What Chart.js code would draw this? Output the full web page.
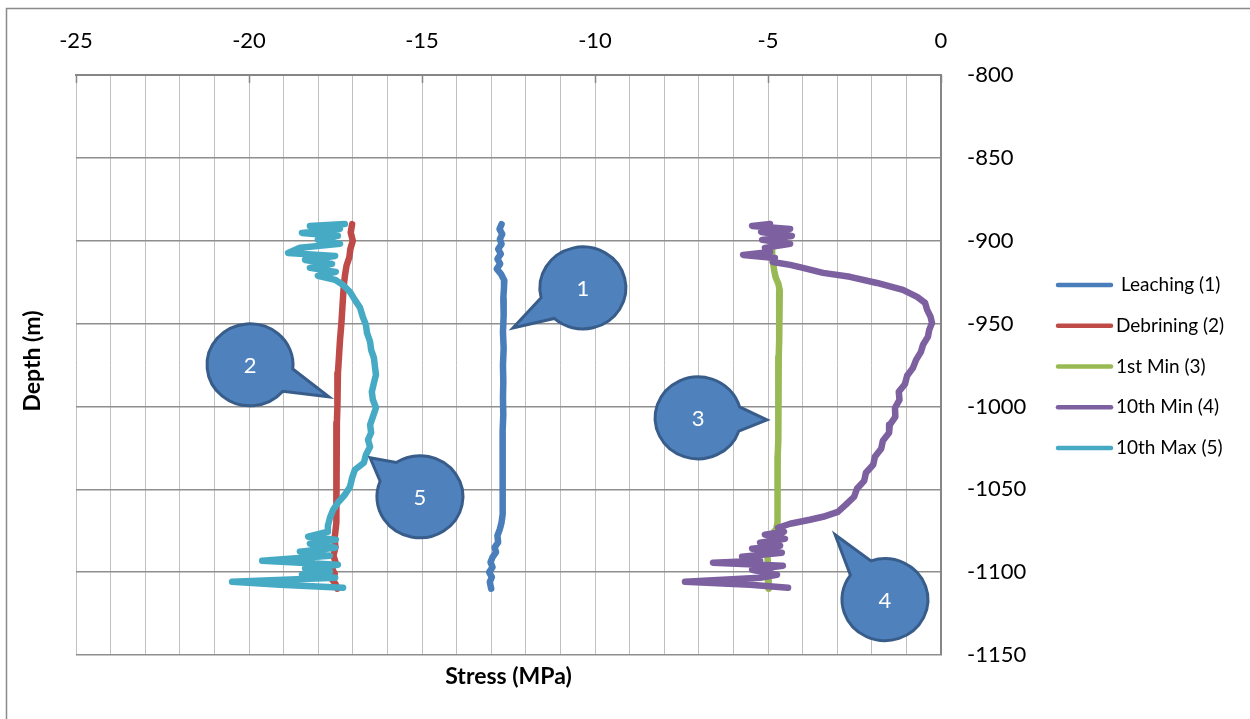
<!DOCTYPE html>
<html>
<head>
<meta charset="utf-8">
<title>Stress vs Depth</title>
<script src="https://cdn.jsdelivr.net/npm/chart.js@4.4.1/dist/chart.umd.min.js"></script>
<style>
  html, body { margin: 0; padding: 0; background: #ffffff; }
  canvas { display: block; }
</style>
</head>
<body>
<canvas id="chart" width="1250" height="719"></canvas>
<script>
// ---- Data: stress (MPa) against depth (m) for each stage ----
const seriesNames = ['Leaching (1)', 'Debrining (2)', '1st Min (3)', '10th Min (4)', '10th Max (5)'];
const seriesColors = ['#4A7EBB', '#BE4B48', '#98B954', '#7D60A0', '#46AAC5'];

const leachDepth = [-890, -893, -896, -899, -902, -905, -908, -911, -914, -917, -920, -924, -928, -935, -945, -955, -965, -975, -985, -995, -1005, -1015, -1025, -1035, -1045, -1055, -1065, -1070, -1074, -1078, -1082, -1085, -1088, -1091, -1094, -1097, -1100, -1103, -1106, -1110];
const leachStress = [-12.70, -12.76, -12.68, -12.75, -12.70, -12.80, -12.72, -12.82, -12.74, -12.84, -12.72, -12.62, -12.63, -12.65, -12.64, -12.66, -12.64, -12.66, -12.65, -12.66, -12.65, -12.67, -12.66, -12.67, -12.66, -12.68, -12.67, -12.70, -12.75, -12.82, -12.80, -12.90, -12.86, -12.96, -13.02, -12.96, -13.06, -12.98, -13.04, -13.00];

const debrineDepth = [-890, -895, -900, -905, -910, -915, -920, -925, -930, -940, -950, -960, -970, -980, -990, -1000, -1010, -1020, -1030, -1040, -1050, -1060, -1070, -1075, -1080, -1085, -1090, -1094, -1098, -1101, -1104, -1107, -1110];
const debrineStress = [-17.02, -17.06, -17.00, -17.07, -17.10, -17.18, -17.22, -17.25, -17.27, -17.30, -17.33, -17.37, -17.40, -17.43, -17.44, -17.45, -17.46, -17.46, -17.47, -17.48, -17.48, -17.48, -17.48, -17.50, -17.53, -17.50, -17.56, -17.50, -17.60, -17.52, -17.62, -17.50, -17.45];

const firstMinDepth = [-890, -895, -900, -905, -910, -914, -918, -922, -926, -930, -940, -950, -960, -970, -980, -990, -1000, -1010, -1020, -1030, -1040, -1050, -1060, -1070, -1074, -1078, -1082, -1086, -1090, -1095, -1100, -1105, -1110];
const firstMinStress = [-4.95, -4.90, -4.93, -4.88, -4.88, -4.85, -4.82, -4.78, -4.70, -4.66, -4.67, -4.68, -4.68, -4.69, -4.69, -4.70, -4.70, -4.71, -4.71, -4.72, -4.72, -4.72, -4.73, -4.73, -4.76, -4.92, -4.95, -4.98, -5.02, -5.00, -5.03, -5.00, -4.98];

const tenthMinDepth = [-889.9, -891.1, -892.9, -894.7, -897.1, -899.5, -901.9, -904.3, -906.8, -908.6, -910.4, -912.8, -914.6, -916.4, -919.4, -921.8, -925.5, -929.7, -933.9, -937.5, -941.7, -946.0, -949.6, -953.8, -958.0, -962.8, -967.1, -971.9, -976.7, -981.5, -986.4, -991.2, -996.0, -1000.8, -1006.3, -1011.1, -1015.9, -1020.7, -1025.6, -1030.4, -1035.2, -1040.0, -1044.9, -1049.7, -1054.5, -1059.3, -1063.6, -1066.6, -1068.4, -1070.8, -1073.2, -1075.6, -1077.4, -1079.9, -1082.3, -1084.1, -1085.9, -1088.3, -1090.7, -1093.1, -1094.3, -1096.1, -1098.6, -1101.6, -1103.4, -1105.8, -1107.6, -1109.4];
const tenthMinStress = [-4.94, -5.46, -4.36, -5.20, -4.31, -5.17, -4.36, -5.09, -4.94, -5.72, -4.80, -4.86, -4.36, -3.99, -3.41, -2.63, -1.85, -1.10, -0.69, -0.46, -0.40, -0.30, -0.26, -0.34, -0.38, -0.52, -0.58, -0.72, -0.81, -0.98, -1.04, -1.22, -1.20, -1.33, -1.32, -1.48, -1.50, -1.68, -1.73, -1.91, -1.96, -2.17, -2.22, -2.43, -2.51, -2.75, -2.98, -3.41, -3.79, -4.36, -4.71, -4.54, -5.09, -4.51, -5.23, -4.65, -5.46, -4.60, -5.75, -5.23, -6.59, -4.57, -5.46, -4.74, -5.23, -7.40, -5.52, -4.42];

const tenthMaxDepth = [-889.9, -891.1, -892.9, -895.3, -897.1, -899.5, -901.9, -904.3, -907.4, -909.2, -911.6, -914.0, -916.4, -918.8, -921.2, -923.6, -926.7, -930.9, -935.7, -940.5, -946.0, -950.8, -955.6, -961.0, -965.9, -970.7, -976.1, -980.9, -985.8, -991.2, -996.0, -1000.8, -1006.3, -1011.1, -1015.9, -1020.1, -1024.4, -1029.2, -1034.0, -1038.2, -1043.1, -1048.5, -1053.3, -1058.1, -1062.4, -1067.2, -1072.0, -1075.6, -1078.6, -1080.5, -1082.9, -1085.3, -1087.7, -1090.1, -1093.1, -1095.5, -1097.9, -1099.8, -1101.6, -1103.4, -1105.8, -1107.6, -1109.4];
const tenthMaxStress = [-17.23, -18.24, -17.37, -18.47, -17.43, -18.01, -17.37, -18.53, -18.87, -17.51, -18.38, -17.60, -18.24, -17.49, -18.01, -17.51, -17.28, -17.08, -16.94, -16.79, -16.71, -16.62, -16.59, -16.50, -16.47, -16.39, -16.36, -16.33, -16.39, -16.45, -16.42, -16.33, -16.42, -16.50, -16.47, -16.56, -16.50, -16.62, -16.68, -16.94, -17.02, -17.08, -17.23, -17.43, -17.57, -17.66, -17.72, -17.72, -18.29, -17.49, -18.24, -17.51, -18.53, -17.66, -19.62, -17.43, -18.38, -17.66, -18.47, -17.51, -20.49, -19.10, -17.28];

// Axis ranges and ticks
const stressMin = -25, stressMax = 0, stressStep = 1, stressLabelEvery = 5;
const depthMin = -1150, depthMax = -800, depthStep = 50;

// Numbered callouts: bubble centre and pointer tip, in (stress, depth)
const calloutText = ['1', '2', '3', '4', '5'];
const calloutStress = [-10.35, -19.97, -7.02, -1.62, -15.06];
const calloutDepth = [-928.5, -974.9, -1006.9, -1116.6, -1054.5];
const calloutTipStress = [-12.37, -17.69, -5.03, -3.06, -16.50];
const calloutTipDepth = [-952.6, -994.2, -1008.1, -1077.4, -1031.0];

const FONT = 'Lato, "Open Sans", "Liberation Sans", sans-serif';

function pairs(depths, stresses) {
  return depths.map((d, i) => ({ x: stresses[i], y: d }));
}

const seriesPoints = [
  pairs(leachDepth, leachStress),
  pairs(debrineDepth, debrineStress),
  pairs(firstMinDepth, firstMinStress),
  pairs(tenthMinDepth, tenthMinStress),
  pairs(tenthMaxDepth, tenthMaxStress)
];

const datasets = seriesNames.map((name, i) => ({
  label: name,
  data: seriesPoints[i],
  borderColor: seriesColors[i],
  backgroundColor: seriesColors[i],
  showLine: true,
  fill: false,
  pointRadius: 0,
  borderWidth: 6.5,
  borderCapStyle: 'round',
  borderJoinStyle: 'round',
  tension: 0,
  order: seriesNames.length - i   // later series are painted on top
}));

// Page background, outer frame, inner tick marks, axis titles, legend and callouts
const decorations = {
  id: 'decorations',
  beforeDraw(chart) {
    const ctx = chart.ctx;
    ctx.save();
    ctx.fillStyle = '#ffffff';
    ctx.fillRect(0, 0, chart.width, chart.height);
    ctx.strokeStyle = '#8a8a8a';
    ctx.lineWidth = 1.5;
    ctx.beginPath();
    ctx.moveTo(6.5, chart.height);
    ctx.lineTo(6.5, 8.5);
    ctx.lineTo(chart.width, 8.5);
    ctx.stroke();
    ctx.restore();
  },
  afterDraw(chart) {
    const ctx = chart.ctx;
    const area = chart.chartArea;
    const xs = chart.scales.x, ys = chart.scales.y;
    ctx.save();

    // major tick marks pointing into the plot from the top axis
    ctx.strokeStyle = '#868686';
    ctx.lineWidth = 1.5;
    for (let v = stressMin; v <= stressMax; v += stressLabelEvery) {
      const px = Math.round(xs.getPixelForValue(v)) + 0.5;
      ctx.beginPath();
      ctx.moveTo(px, area.top);
      ctx.lineTo(px, area.top + 8);
      ctx.stroke();
    }

    // axis titles
    ctx.fillStyle = '#000000';
    ctx.font = 'bold 23px ' + FONT;
    ctx.textAlign = 'center';
    ctx.textBaseline = 'middle';
    ctx.fillText('Stress (MPa)', (area.left + area.right) / 2, 677);
    ctx.save();
    ctx.translate(33, (area.top + area.bottom) / 2 - 4);
    ctx.rotate(-Math.PI / 2);
    ctx.fillText('Depth (m)', 0, 0);
    ctx.restore();

    // legend
    ctx.font = '19px ' + FONT;
    ctx.textAlign = 'left';
    ctx.textBaseline = 'middle';
    chart.data.datasets.forEach((ds, i) => {
      const y = 285 + i * 40.75;
      ctx.strokeStyle = ds.borderColor;
      ctx.lineWidth = 4.5;
      ctx.lineCap = 'round';
      ctx.beginPath();
      ctx.moveTo(1058, y);
      ctx.lineTo(1111, y);
      ctx.stroke();
      ctx.fillStyle = '#000000';
      ctx.fillText(ds.label, i === 0 ? 1121 : 1116, y);
    });

    // numbered callouts
    calloutText.forEach((t, i) => {
      const cx = xs.getPixelForValue(calloutStress[i]);
      const cy = ys.getPixelForValue(calloutDepth[i]);
      const tx = xs.getPixelForValue(calloutTipStress[i]);
      const ty = ys.getPixelForValue(calloutTipDepth[i]);
      const rx = 43, ry = 41, half = 0.3;
      const ang = Math.atan2((ty - cy) / ry, (tx - cx) / rx);
      ctx.beginPath();
      ctx.ellipse(cx, cy, rx, ry, 0, ang + half, ang - half + Math.PI * 2);
      ctx.lineTo(tx, ty);
      ctx.closePath();
      ctx.fillStyle = '#4F81BD';
      ctx.fill();
      ctx.lineWidth = 3;
      ctx.lineJoin = 'miter';
      ctx.strokeStyle = '#385D8A';
      ctx.stroke();
      ctx.fillStyle = '#ffffff';
      ctx.font = '22px ' + FONT;
      ctx.textAlign = 'center';
      ctx.textBaseline = 'middle';
      ctx.fillText(t, cx, cy + 1);
    });

    ctx.restore();
  }
};

new Chart(document.getElementById('chart'), {
  type: 'scatter',
  data: { datasets },
  options: {
    responsive: false,
    animation: false,
    devicePixelRatio: 1,
    layout: { padding: { left: 76, top: 0, right: 0, bottom: 64 } },
    plugins: {
      legend: { display: false },
      tooltip: { enabled: false }
    },
    scales: {
      x: {
        type: 'linear',
        position: 'top',
        min: stressMin,
        max: stressMax,
        ticks: {
          stepSize: stressStep,
          autoSkip: false,
          maxRotation: 0,
          padding: 21,
          color: '#000000',
          font: { family: FONT, size: 22 },
          callback: v => (v % stressLabelEvery === 0 ? String(v) : '')
        },
        grid: { color: '#C0C0C0', lineWidth: 1, drawTicks: false },
        border: { display: true, color: '#868686', width: 2 },
        afterFit: s => { s.height = 75; }
      },
      y: {
        type: 'linear',
        position: 'right',
        min: depthMin,
        max: depthMax,
        ticks: {
          stepSize: depthStep,
          padding: 26,
          color: '#000000',
          font: { family: FONT, size: 22 },
          callback: v => String(v)
        },
        grid: { color: '#8E8E8E', lineWidth: 1.5, drawTicks: false },
        border: { display: true, color: '#868686', width: 2 },
        afterFit: s => { s.width = 309; }
      }
    }
  },
  plugins: [decorations]
});
</script>
</body>
</html>
